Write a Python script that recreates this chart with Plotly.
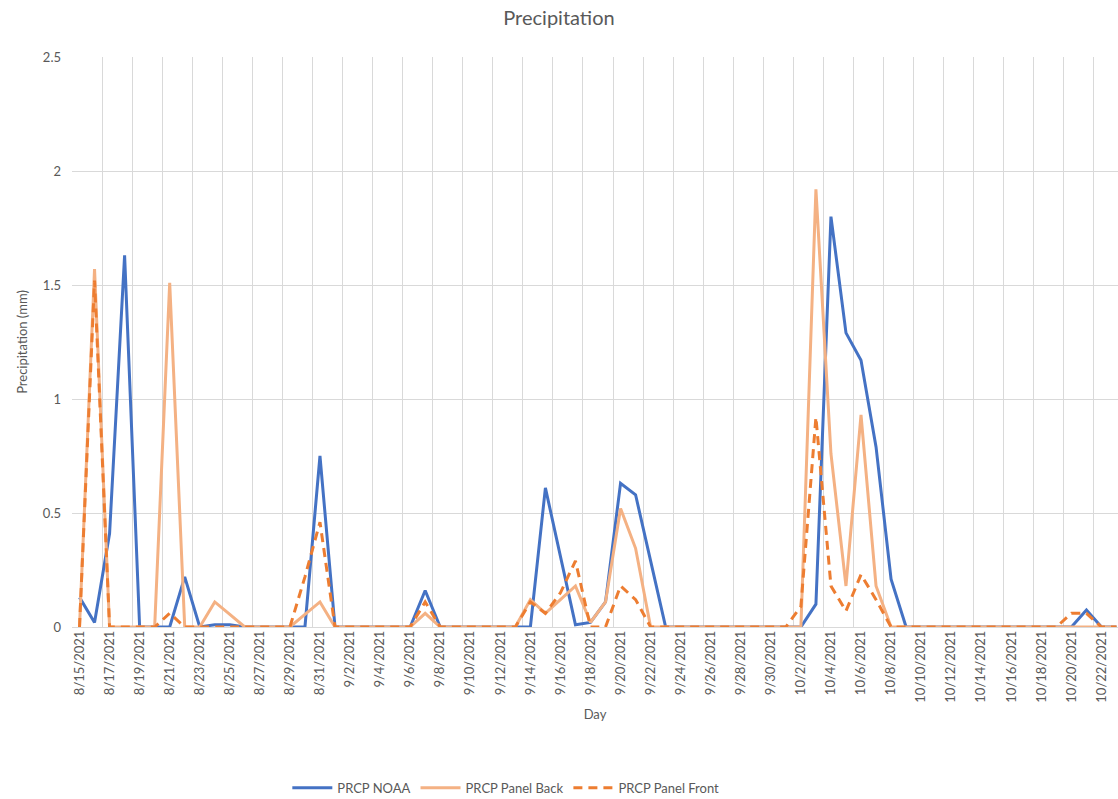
import pandas as pd
import plotly.graph_objects as go

# Daily observation window
days = pd.date_range("2021-08-15", "2021-10-23", freq="D")
day_labels = [f"{d.month}/{d.day}/{d.year}" for d in days]

# Daily precipitation (mm)
prcp_noaa = [
    0.13, 0.02, 0.41, 1.63, 0, 0, 0, 0.22, 0, 0.01,
    0.01, 0, 0, 0, 0, 0, 0.75, 0, 0, 0,
    0, 0, 0, 0.16, 0, 0, 0, 0, 0, 0,
    0, 0.61, 0.31, 0.01, 0.02, 0.11, 0.63, 0.58, 0.29, 0,
    0, 0, 0, 0, 0, 0, 0, 0, 0, 0.10,
    1.80, 1.29, 1.17, 0.79, 0.21, 0, 0, 0, 0, 0,
    0, 0, 0, 0, 0, 0, 0, 0.075, 0, 0,
]
prcp_panel_back = [
    0, 1.57, 0, 0, 0, 0, 1.51, 0, 0, 0.11,
    0.055, 0, 0, 0, 0, 0.055, 0.11, 0, 0, 0,
    0, 0, 0, 0.06, 0, 0, 0, 0, 0, 0,
    0.12, 0.06, 0.12, 0.18, 0.02, 0.11, 0.52, 0.345, 0, 0,
    0, 0, 0, 0, 0, 0, 0, 0, 0, 1.92,
    0.76, 0.18, 0.93, 0.18, 0, 0, 0, 0, 0, 0,
    0, 0, 0, 0, 0, 0, 0, 0, 0, 0,
]
prcp_panel_front = [
    0, 1.52, 0, 0, 0, 0, 0.06, 0, 0, 0,
    0, 0, 0, 0, 0, 0.22, 0.46, 0, 0, 0,
    0, 0, 0, 0.11, 0, 0, 0, 0, 0, 0,
    0.11, 0.06, 0.15, 0.29, 0, 0, 0.18, 0.12, 0, 0,
    0, 0, 0, 0, 0, 0, 0, 0, 0.09, 0.92,
    0.18, 0.07, 0.23, 0.12, 0, 0, 0, 0, 0, 0,
    0, 0, 0, 0, 0, 0, 0.06, 0.06, 0, 0,
]

idx = list(range(len(day_labels)))
FONT = "Lato, 'Open Sans', sans-serif"
TEXT = "#595959"
GRID = "#d9d9d9"

fig = go.Figure()
# x carries the between-day gridlines; x2 (same range) carries the day labels
fig.add_trace(go.Scatter(x=idx, y=prcp_noaa, name="PRCP NOAA", mode="lines",
                         line=dict(color="#4472C4", width=3)))
fig.add_trace(go.Scatter(x=idx, y=prcp_panel_back, name="PRCP Panel Back", mode="lines",
                         line=dict(color="#F4B183", width=3)))
fig.add_trace(go.Scatter(x=idx, y=prcp_panel_front, name="PRCP Panel Front", mode="lines",
                         line=dict(color="#ED7D31", width=3, dash="9px,6px"), xaxis="x2"))

xrange = [-0.5, 69.1]
grid_vals = [i - 0.5 for i in idx[::2]]
label_vals = idx[::2]

fig.update_layout(
    width=1118, height=799,
    margin=dict(l=72, r=0, t=57, b=172),
    paper_bgcolor="white", plot_bgcolor="white",
    font=dict(family=FONT, color=TEXT, size=13),
    title=dict(text="Precipitation", x=0.5, xanchor="center", y=0.977, yanchor="middle",
               font=dict(size=20, color=TEXT, family=FONT)),
    xaxis=dict(range=xrange, tickmode="array", tickvals=grid_vals, showticklabels=False,
               showgrid=True, gridcolor=GRID, gridwidth=1, zeroline=False, ticks=""),
    xaxis2=dict(range=xrange, overlaying="x", anchor="y", side="bottom",
                tickmode="array", tickvals=label_vals,
                ticktext=[day_labels[i] for i in label_vals],
                tickangle=-90, showgrid=False, zeroline=False, ticks="",
                tickfont=dict(size=13, color=TEXT, family=FONT),
                title=dict(text="Day", font=dict(size=13, color=TEXT, family=FONT), standoff=8)),
    yaxis=dict(range=[0, 2.5], dtick=0.5, showgrid=True, gridcolor=GRID, gridwidth=1,
               zeroline=True, zerolinecolor=GRID, zerolinewidth=1, ticks="",
               ticklabelstandoff=10,
               tickfont=dict(size=13, color=TEXT, family=FONT),
               title=dict(text="Precipitation (mm)", font=dict(size=13, color=TEXT, family=FONT),
                          standoff=12)),
    legend=dict(orientation="h", xref="container", yref="container",
                x=0.257, xanchor="left", y=0.014, yanchor="middle", itemwidth=40,
                font=dict(size=13, color=TEXT, family=FONT), bgcolor="rgba(0,0,0,0)"),
    showlegend=True,
)

fig.write_html("out.html")
